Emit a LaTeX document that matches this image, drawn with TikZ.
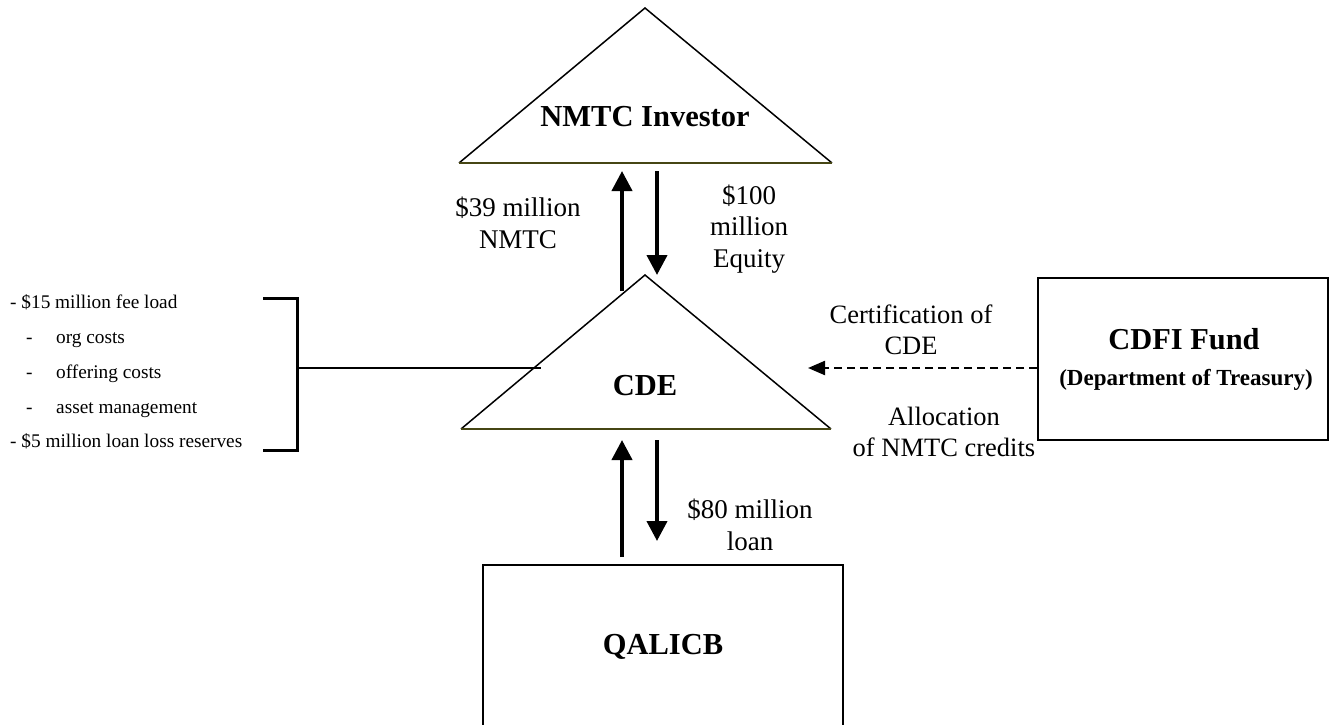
\documentclass[tikz,border=0pt]{standalone}
\usepackage{fontspec}
\setmainfont{Liberation Serif}
\usetikzlibrary{arrows.meta}
\definecolor{baseline}{RGB}{70,70,20}
\tikzset{
  tri/.style={line width=1.5pt, line join=miter},
  trib/.style={line width=1.8pt, draw=baseline},
  flow/.style={line width=4pt, -{Triangle[length=20pt,width=20pt]}},
  lbl/.style={align=center, font=\fontsize{27}{31.5}\selectfont, inner sep=0pt},
  note/.style={align=center, font=\fontsize{26.5}{31}\selectfont, inner sep=0pt},
  head/.style={font=\fontsize{30.5}{34}\selectfont\bfseries, inner sep=0pt},
  side/.style={anchor=base west, font=\fontsize{19.3}{22}\selectfont, inner sep=0pt},
  boxline/.style={line width=2pt},
  brack/.style={line width=3pt}
}
\begin{document}
\begin{tikzpicture}[x=1pt,y=-1pt]
\useasboundingbox (0,0) rectangle (1330,725);
\clip (0,0) rectangle (1330,725);

% investor triangle
\draw[tri] (459,163) -- (645,8) -- (832,163);
\draw[trib] (459,163) -- (832,163);
\node[head] (inv) at (645,117) {NMTC Investor};

% CDE triangle
\draw[tri] (461,429) -- (645,275) -- (831,429);
\draw[trib] (461,429) -- (831,429);
\node[head] (cde) at (645,386) {CDE};

% CDFI Fund box
\node[draw, boxline, minimum width=290pt, minimum height=162pt, inner sep=0pt] (cdfi) at (1183,359) {};
\node[inner sep=0pt, font=\fontsize{30.4}{34}\selectfont\bfseries] (cdfit) at (1184,339) {CDFI Fund};
\node[inner sep=0pt, font=\fontsize{23}{26}\selectfont\bfseries] (cdfis) at (1186,380) {(Department of Treasury)};

% QALICB box (runs past the lower edge)
\draw[boxline] (483,740) -- (483,565) -- (843,565) -- (843,740);
\node[head] (qal) at (663,647) {QALICB};

% flow arrows between investor and CDE
\coordinate (a1s) at (622,291);
\coordinate (a1e) at (622,171);
\coordinate (a2s) at (657,171);
\coordinate (a2e) at (657,275);
\draw[flow] (a1s) -- (a1e);
\draw[flow] (a2s) -- (a2e);
\node[lbl] (l39) at (518,223) {\$39 million\\NMTC};
\node[lbl] (l100) at (749,229) {\$100\\million\\Equity};

% flow arrows between CDE and QALICB
\coordinate (b1s) at (622,557);
\coordinate (b1e) at (622,440);
\coordinate (b2s) at (657,440);
\coordinate (b2e) at (657,541);
\draw[flow] (b1s) -- (b1e);
\draw[flow] (b2s) -- (b2e);
\node[lbl] (l80) at (750,525) {\$80 million\\loan};

% certification arrow from CDFI Fund
\coordinate (certend) at (808,368);
\draw[line width=2.3pt, dash pattern=on 8pt off 5pt, -{Triangle[length=17pt,width=14pt]}] (cdfi.west |- certend) -- (certend);
\node[note] (lcert) at (911,330) {Certification of\\CDE};
\node[note] (lalloc) at (944,432) {Allocation\\of NMTC credits};

% fee bracket
\draw[brack] (263,298) -- (297,298) -- (297,450) -- (263,450);
\coordinate (feeend) at (541,368);
\draw[line width=2.5pt] (297,368) -- (feeend);
\node[side] (f1) at (10,308) {- \$15 million fee load};
\node[side] (f2) at (26,343) {-};
\node[side] (f2t) at (56,343) {org costs};
\node[side] (f3) at (26,378) {-};
\node[side] (f3t) at (56,378) {offering costs};
\node[side] (f4) at (26,413) {-};
\node[side] (f4t) at (56,413) {asset management};
\node[side] (f5) at (10,447) {- \$5 million loan loss reserves};
\end{tikzpicture}
\end{document}
